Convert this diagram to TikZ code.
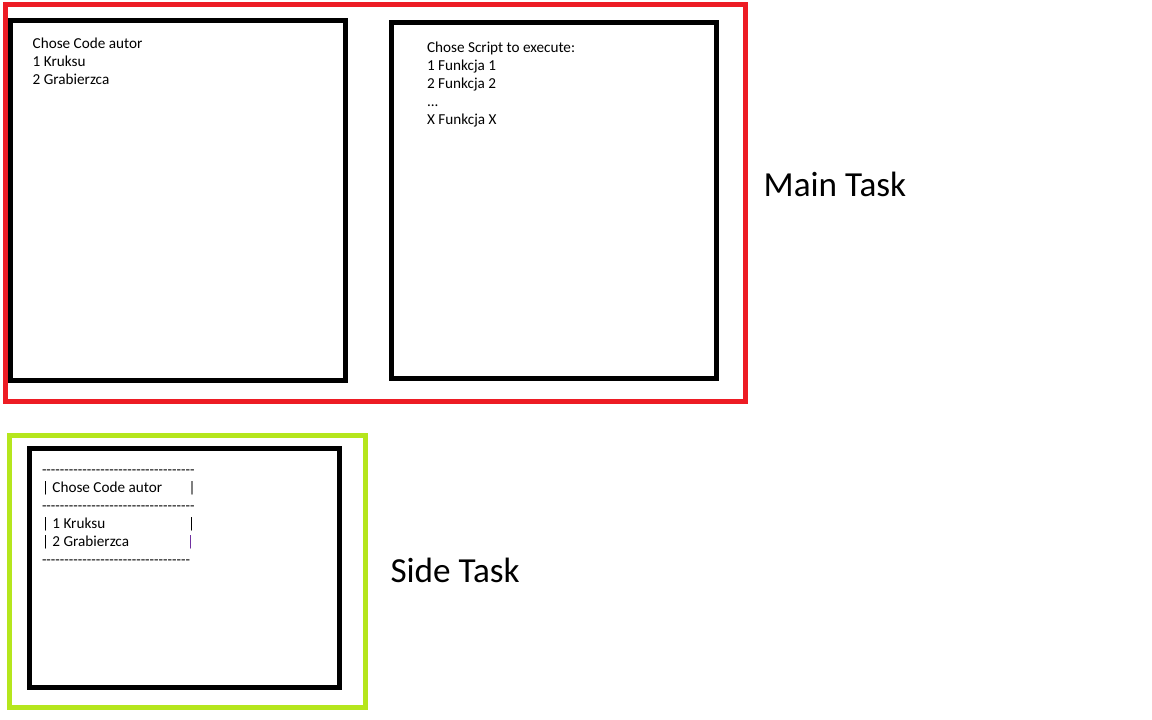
\documentclass[tikz,border=0pt]{standalone}
\usepackage{fontspec}
\setmainfont{Carlito}
\newfontfamily\dashfont[Ligatures=TeXOff]{Carlito}
\definecolor{mainred}{RGB}{237,28,36}
\definecolor{sidegreen}{RGB}{181,230,29}
\definecolor{barpurple}{RGB}{112,48,160}
\begin{document}
\begin{tikzpicture}[x=1pt,y=-1pt,
  frame/.style={line width=5pt,line join=miter},
  small/.style={font=\fontsize{15.2pt}{18pt}\selectfont,inner sep=0pt,anchor=base west},
  big/.style={font=\fontsize{35.2pt}{42pt}\selectfont,inner sep=0pt,anchor=base west}]
\useasboundingbox (0,0) rectangle (1152,720);
\fill[white] (0,0) rectangle (1152,720);
% main task frame
\draw[frame,mainred] (5,4.5) rectangle (745.5,401);
\draw[frame,black] (10.3,20.5) rectangle (345,380);
\draw[frame,black] (391.3,22.5) rectangle (716.5,378.5);
% side task frame
\draw[frame,sidegreen] (9.5,435.8) rectangle (365,707.5);
\draw[frame,black] (29.3,448.3) rectangle (339.7,687.5);
% texts
\node[small] (t1) at (32.5,48.3) {\parbox[t]{280pt}{Chose Code autor\\1 Kruksu\\2 Grabierzca}};
\node[small] (t2) at (426.8,52.3) {\parbox[t]{280pt}{Chose Script to execute:\\1 Funkcja 1\\2 Funkcja 2\\...\\X Funkcja X}};
\node[small] (t3) at (41.8,474) {\parbox[t]{280pt}{{\dashfont\fontsize{14.67pt}{18pt}\selectfont ----------------------------------}\\
\makebox[146.6pt][l]{| Chose Code autor}|\\
{\dashfont\fontsize{14.67pt}{18pt}\selectfont ----------------------------------}\\
\makebox[146pt][l]{| 1 Kruksu}|\\
\makebox[145pt][l]{| 2 Grabierzca}\textcolor{barpurple}{|}\\
{\dashfont\fontsize{14.67pt}{18pt}\selectfont ---------------------------------}}};
\node[big] (main) at (763.5,196.7) {Main Task};
\node[big] (side) at (390.3,582.7) {Side Task};
\end{tikzpicture}
\end{document}
